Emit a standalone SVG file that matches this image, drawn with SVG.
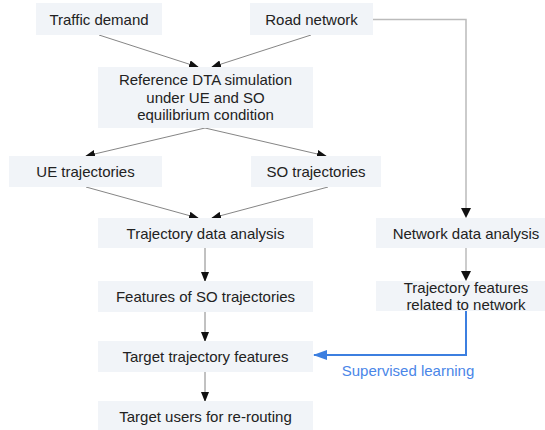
<svg xmlns="http://www.w3.org/2000/svg" width="545" height="430" viewBox="0 0 545 430">
<style>
.box{fill:#f1f4f8}
.t{font-family:"Liberation Sans",Arial,sans-serif;font-size:15px;fill:#222;text-anchor:middle}
.c{stroke:#666;stroke-width:0.8;fill:none}
.g{stroke:#bbb;stroke-width:1.5;fill:none}
.b{stroke:#3c7fe0;stroke-width:2;fill:none}
.bl{font-family:"Liberation Sans",Arial,sans-serif;font-size:15px;fill:#4a86e8;text-anchor:middle}
</style>
<defs>
<marker id="ah" markerWidth="10" markerHeight="8" refX="9" refY="4" orient="auto" markerUnits="userSpaceOnUse">
<path d="M0,0 L10,4 L0,8 Z" fill="#111"/>
</marker>
<marker id="ahb" markerWidth="14" markerHeight="10" refX="13" refY="5" orient="auto" markerUnits="userSpaceOnUse">
<path d="M0,0 L14,5 L0,10 Z" fill="#3c7fe0"/>
</marker>
</defs>
<rect width="545" height="430" fill="#fff"/>
<g id="connectors">
<line class="c" x1="99" y1="35" x2="198" y2="67" marker-end="url(#ah)"/>
<line class="c" x1="311" y1="35" x2="212" y2="67" marker-end="url(#ah)"/>
<polyline class="g" points="373,19.5 466,19.5 466,209"/>
<path d="M461,208 L471,208 L466,218 Z" fill="#111"/>
<line class="c" x1="205" y1="128" x2="86" y2="156" marker-end="url(#ah)"/>
<line class="c" x1="205" y1="128" x2="326" y2="156" marker-end="url(#ah)"/>
<line class="c" x1="86" y1="187" x2="198" y2="218" marker-end="url(#ah)"/>
<line class="c" x1="328" y1="187" x2="212" y2="218" marker-end="url(#ah)"/>
<line class="c" x1="205" y1="248" x2="205" y2="281" marker-end="url(#ah)"/>
<line class="c" x1="205" y1="312" x2="205" y2="341" marker-end="url(#ah)"/>
<line class="c" x1="205" y1="372" x2="205" y2="401" marker-end="url(#ah)"/>
<line class="g" x1="466" y1="248" x2="466" y2="272"/>
<path d="M461,271 L471,271 L466,281 Z" fill="#111"/>
<polyline class="b" points="466,311 466,355 314,355" marker-end="url(#ahb)"/>
<text class="bl" x="408" y="376">Supervised learning</text>
</g>
<g id="traffic-demand"><rect class="box" x="36" y="3" width="126" height="32"/><text class="t" x="99" y="24.5">Traffic demand</text></g>
<g id="road-network"><rect class="box" x="250" y="3" width="123" height="32"/><text class="t" x="311.5" y="24.5">Road network</text></g>
<g id="reference-dta"><rect class="box" x="98" y="67" width="215" height="61"/>
<text class="t" x="205.5" y="85">Reference DTA simulation</text>
<text class="t" x="205.5" y="102.5">under UE and SO</text>
<text class="t" x="205.5" y="120">equilibrium condition</text></g>
<g id="ue-trajectories"><rect class="box" x="9" y="156" width="153" height="31"/><text class="t" x="85.5" y="177">UE trajectories</text></g>
<g id="so-trajectories"><rect class="box" x="251" y="156" width="130" height="31"/><text class="t" x="316" y="177">SO trajectories</text></g>
<g id="trajectory-data-analysis"><rect class="box" x="98" y="218" width="215" height="30"/><text class="t" x="205.5" y="239">Trajectory data analysis</text></g>
<g id="network-data-analysis"><rect class="box" x="376" y="218" width="180" height="30"/><text class="t" x="466" y="239">Network data analysis</text></g>
<g id="trajectory-features-network"><rect class="box" x="376" y="281" width="180" height="30"/>
<text class="t" x="466" y="293">Trajectory features</text>
<text class="t" x="466" y="310">related to network</text></g>
<g id="features-so"><rect class="box" x="98" y="281" width="215" height="31"/><text class="t" x="205.5" y="302">Features of SO trajectories</text></g>
<g id="target-features"><rect class="box" x="98" y="341" width="215" height="31"/><text class="t" x="205.5" y="362">Target trajectory features</text></g>
<g id="target-users"><rect class="box" x="98" y="401" width="215" height="31"/><text class="t" x="205.5" y="422">Target users for re-routing</text></g>
</svg>
